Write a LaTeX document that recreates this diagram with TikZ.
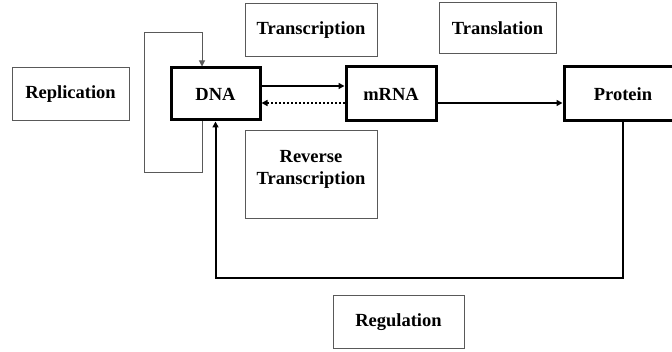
\documentclass[tikz,border=0pt]{standalone}
\usepackage{fontspec}
\setmainfont{Liberation Serif}
\usetikzlibrary{arrows.meta,calc}
\begin{document}
\begin{tikzpicture}[x=1pt,y=-1pt,
  lbl/.style={font=\fontsize{18.5}{22}\selectfont\bfseries, inner sep=0pt, align=center},
  thinbox/.style={draw=black!65, line width=1pt, fill=white, inner sep=0pt},
  thickbox/.style={draw=black, line width=3pt, fill=white, inner sep=0pt, font=\fontsize{18.5}{22}\selectfont\bfseries},
  conn/.style={line width=2pt, -{Triangle[length=6pt,width=6pt]}},
  thinconn/.style={draw=black!65, line width=1pt, -{Triangle[length=6pt,width=6pt]}}]
\useasboundingbox (0,0) rectangle (672,352);
\begin{scope}
\clip (0,0) rectangle (672,352);
% boxes
\node[thinbox, minimum width=132pt, minimum height=53pt, lbl] (tc) at (311,30.5) {Transcription};
\node[thinbox, minimum width=117pt, minimum height=51pt, lbl] (tl) at (497.5,28.5) {Translation};
\node[thinbox, minimum width=117pt, minimum height=53pt, lbl] (rep) at (70.5,94.5) {Replication};
\node[thinbox, minimum width=132pt, minimum height=88pt] (rt) at (311,175) {};
\node[lbl] (rtl) at (311,169) {Reverse\\Transcription};
\node[thinbox, minimum width=131pt, minimum height=53pt, lbl] (reg) at (398.5,322.5) {Regulation};
\node[thickbox, minimum width=89pt, minimum height=52pt] (dna) at (215.5,94) {DNA};
\node[thickbox, minimum width=90pt, minimum height=54pt] (mrna) at (391,94) {mRNA};
\node[thickbox, minimum width=118pt, minimum height=54pt] (prot) at (623,94) {Protein};
% helper coordinates
\coordinate (rx) at (202,0);
\coordinate (lx) at (144,0);
\coordinate (ty) at (0,33);
\coordinate (by) at (0,173);
\coordinate (gy) at (0,278);
% connectors
\draw[conn] ([yshift=8pt]dna.east) -- ([yshift=8pt]mrna.west);
\draw[conn, dotted] ([yshift=-9pt]mrna.west) -- ([yshift=-9pt]dna.east);
\draw[line width=1.6pt, -{Triangle[length=6pt,width=6pt]}] ([yshift=-9pt]mrna.east) -- ([yshift=-9pt]prot.west);
\draw[conn] (prot.south) -- (prot.south |- gy) -- (dna.south |- gy) -- (dna.south);
\draw[thinconn] (dna.south -| rx) -- (rx |- by) -- (lx |- by) -- (lx |- ty) -- (rx |- ty) -- (dna.north -| rx);
\end{scope}
\end{tikzpicture}
\end{document}
